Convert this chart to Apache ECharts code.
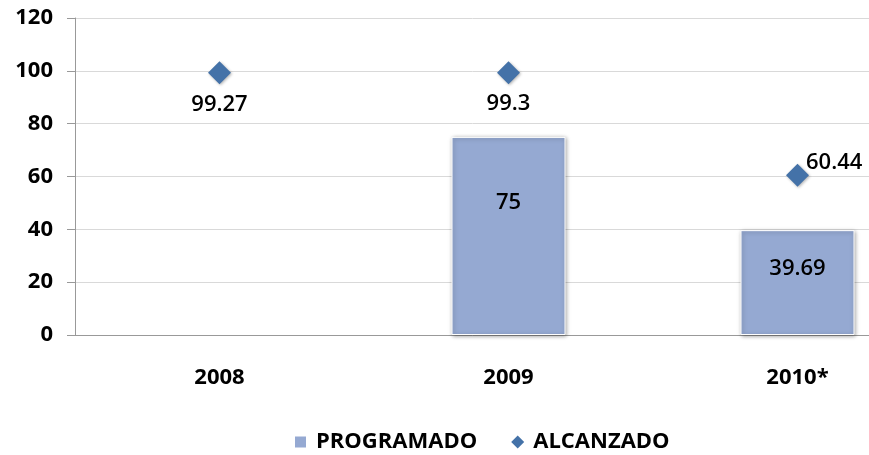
<!DOCTYPE html>
<html>
<head>
<meta charset="utf-8">
<script src="https://cdn.jsdelivr.net/npm/echarts@6/dist/echarts.min.js"></script>
<style>
  html, body { margin: 0; padding: 0; background: #fff; }
  #grafico { width: 869px; height: 455px; }
</style>
</head>
<body>
<div id="grafico"></div>
<script>
const anios = ["2008", "2009", "2010*"];
const programado = [null, 75, 39.69];
const alcanzado = [99.27, 99.3, 60.44];
const ticksY = [0, 20, 40, 60, 80, 100, 120];

const fuente = "'Open Sans', 'Noto Sans', sans-serif";
const chart = echarts.init(document.getElementById("grafico"));

// posicion de etiquetas como en el original
const etiquetaBarra = [null, { offset: [0, -33] }, { offset: [0, -14] }];
const etiquetaPunto = [
  { position: "bottom", distance: 9 },
  { position: "bottom", distance: 9 },
  { position: "right", distance: 0, offset: [-3, -13] },
];

chart.setOption({
  animation: false,
  textStyle: { fontFamily: fuente },
  grid: { left: 75, top: 18, width: 867, height: 317, outerBoundsMode: "none", containLabel: false },
  legend: {
    top: 426,
    left: 288,
    itemGap: 34,
    itemWidth: 13,
    itemHeight: 13,
    textStyle: {
      fontFamily: fuente,
      fontSize: 22,
      fontWeight: "bold",
      color: "#000",
      padding: [0, 0, 0, 4],
    },
    data: [
      { name: "PROGRAMADO", icon: "rect" },
      { name: "ALCANZADO", icon: "diamond" },
    ],
  },
  xAxis: {
    type: "category",
    data: anios,
    axisLine: { lineStyle: { color: "#999" } },
    axisTick: { length: 8, lineStyle: { color: "#999" } },
    axisLabel: { margin: 32, fontSize: 22, fontWeight: "bold", color: "#000", fontFamily: fuente },
  },
  yAxis: {
    type: "value",
    min: ticksY[0],
    max: ticksY[ticksY.length - 1],
    interval: 20,
    axisLine: { show: true, lineStyle: { color: "#999" } },
    axisTick: { show: true, length: 8, lineStyle: { color: "#999" } },
    splitLine: { lineStyle: { color: "#d9d9d9" } },
    axisLabel: { margin: 22, fontSize: 22, fontWeight: "bold", color: "#000", fontFamily: fuente },
  },
  series: [
    {
      name: "PROGRAMADO",
      type: "bar",
      barWidth: 114,
      data: programado.map((v, i) => ({
        value: v,
        label: etiquetaBarra[i] || {},
      })),
      itemStyle: {
        color: "#95a9d2",
        borderColor: "#fff",
        borderWidth: 1,
        shadowBlur: 4,
        shadowColor: "rgba(0,0,0,0.35)",
        shadowOffsetX: 1,
        shadowOffsetY: 1,
      },
      label: {
        show: true,
        position: "inside",
        fontSize: 22,
        fontWeight: 600,
        color: "#000",
        fontFamily: fuente,
      },
    },
    {
      name: "ALCANZADO",
      type: "scatter",
      symbol: "diamond",
      symbolSize: 23,
      data: alcanzado.map((v, i) => ({ value: v, label: etiquetaPunto[i] })),
      itemStyle: {
        color: "#4472a8",
        opacity: 1,
        shadowBlur: 3,
        shadowColor: "rgba(0,0,0,0.3)",
        shadowOffsetX: 1,
        shadowOffsetY: 1,
      },
      label: {
        show: true,
        fontSize: 22,
        fontWeight: 600,
        color: "#000",
        fontFamily: fuente,
      },
      z: 3,
    },
  ],
});
</script>
</body>
</html>
